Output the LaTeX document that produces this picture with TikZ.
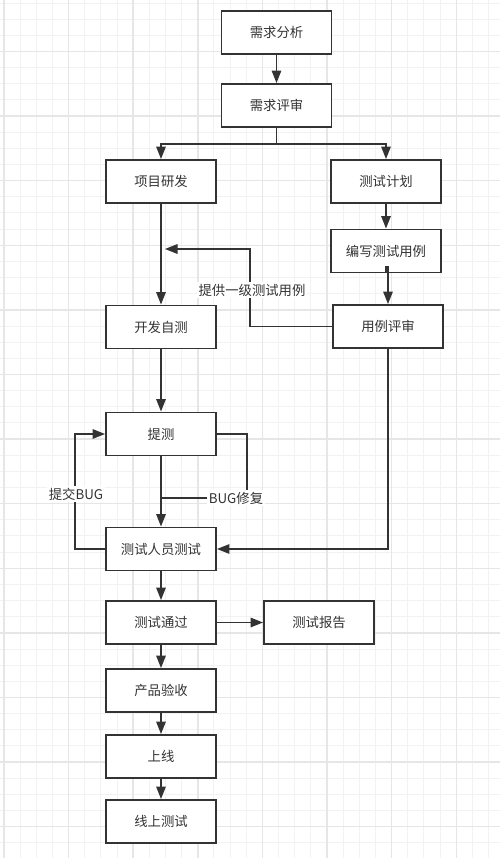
\documentclass[tikz,border=0pt]{standalone}
\usepackage{fontspec}
\newfontfamily\cjk{Noto Sans CJK SC}
\usetikzlibrary{arrows.meta}
\definecolor{ink}{HTML}{333333}
\definecolor{gridminor}{HTML}{F2F2F2}
\definecolor{gridmajor}{HTML}{E6E6E6}
\begin{document}
\begin{tikzpicture}[x=0.02cm,y=-0.02cm,
        box/.style={rectangle,draw=ink,line width=1.1pt,fill=white,
          inner sep=0pt,minimum width=2.2cm,minimum height=0.86cm,
          text=ink,font=\cjk\fontsize{7.6}{9}\selectfont},
        lbl/.style={fill=white,inner sep=1pt,text=ink,
          font=\cjk\fontsize{7.6}{9}\selectfont},
        line/.style={draw=ink,line width=0.9pt},
        flow/.style={line,-{Triangle[length=0.25cm,width=0.19cm]}}]
      \useasboundingbox (0,0) rectangle (500,858);
      \fill[white] (0,0) rectangle (500,858);
      % grid
      \foreach \i in {0,...,30}
        \draw[gridminor,line width=0.55pt] ({4+16.15*\i},0) -- ({4+16.15*\i},858);
      \foreach \j in {0,...,52}
        \draw[gridminor,line width=0.55pt] (0,{3+16.15*\j}) -- (500,{3+16.15*\j});
      \foreach \i in {0,4,...,28}
        \draw[gridmajor,line width=0.8pt] ({4+16.15*\i},0) -- ({4+16.15*\i},858);
      \foreach \j in {3,7,...,51}
        \draw[gridmajor,line width=0.8pt] (0,{3+16.15*\j}) -- (500,{3+16.15*\j});
      % boxes
      \node (1) at (276.5,32.5) [box] {需求分析};
      \node (2) at (276.5,105.5) [box] {需求评审};
      \node (3) at (161,181.5) [box] {项目研发};
      \node (4) at (386,181.5) [box] {测试计划};
      \node (5) at (386,251) [box] {编写测试用例};
      \node (6) at (388,326.5) [box] {用例评审};
      \node (7) at (161,327) [box] {开发自测};
      \node (8) at (161,434) [box] {提测};
      \node (9) at (161,549) [box] {测试人员测试};
      \node (10) at (161,622.5) [box] {测试通过};
      \node (11) at (319,622.5) [box] {测试报告};
      \node (12) at (161,690.5) [box] {产品验收};
      \node (13) at (161,756.5) [box] {上线};
      \node (14) at (161,821.5) [box] {线上测试};
      \coordinate (b) at (276.5,144);
      \coordinate (t) at (165,249);
      % connectors
      \draw (1) edge[flow] (2);
      \draw[line] (2) -- (b);
      \draw[flow] (b) -| (3);
      \draw[flow] (b) -| (4);
      \draw (3) edge[flow] (7);
      \draw (4) edge[flow] (5);
      \draw[flow] (5) -- ++(0,16) -| (6);
      \draw[flow] (6) -- (250,326.5) |- (t);
      \draw (7) edge[flow] (8);
      \draw (8) edge[flow] (9);
      \draw[line] (8) -- (247,434) |- (161,498);
      \draw[flow] (9) -- (75,549) |- (8);
      \draw[flow] (6) |- (9);
      \draw (9) edge[flow] (10);
      \draw (10) edge[flow] (11);
      \draw (10) edge[flow] (12);
      \draw (12) edge[flow] (13);
      \draw (13) edge[flow] (14);
      % labels
      \node (l1) at (252,290) [lbl] {提供一级测试用例};
      \node (l2) at (236,498) [lbl] {BUG修复};
      \node (l3) at (76,494) [lbl] {提交BUG};
\end{tikzpicture}
\end{document}
